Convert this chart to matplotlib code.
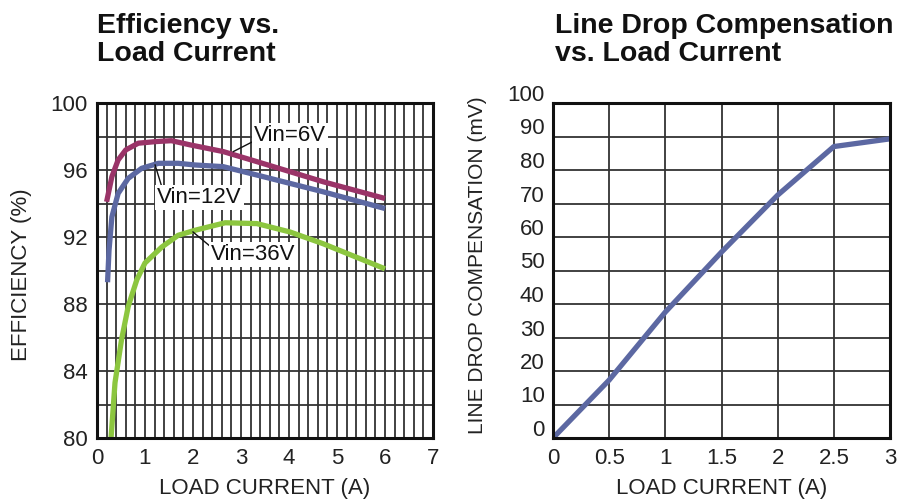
import matplotlib
matplotlib.use("Agg")
import matplotlib.pyplot as plt
import matplotlib.transforms as mtransforms
import numpy as np

plt.rcParams['font.family'] = ['Liberation Sans', 'DejaVu Sans']

# ---- Data: Efficiency vs Load Current ----
x_6v = [0.2, 0.31, 0.44, 0.6, 0.86, 1.24, 1.55, 1.94, 2.63, 3.33, 4.02, 4.71, 6.0]
y_6v = [94.1, 95.6, 96.6, 97.2, 97.6, 97.7, 97.75, 97.5, 97.1, 96.5, 95.9, 95.3, 94.3]

x_12v = [0.22, 0.25, 0.31, 0.44, 0.65, 0.93, 1.28, 1.69, 2.04, 2.63, 3.33, 4.02, 4.71, 6.0]
y_12v = [89.3, 91.2, 93.2, 94.6, 95.5, 96.1, 96.4, 96.4, 96.3, 96.2, 95.7, 95.2, 94.7, 93.7]

x_36v = [0.29, 0.375, 0.51, 0.65, 0.83, 1.0, 1.35, 1.69, 2.04, 2.67, 3.33, 4.02, 4.71, 6.0]
y_36v = [79.9, 83.3, 85.85, 87.85, 89.45, 90.45, 91.4, 92.1, 92.4, 92.85, 92.8, 92.3, 91.6, 90.1]

eff_xticks = [0, 1, 2, 3, 4, 5, 6, 7]
eff_yticks = [80, 84, 88, 92, 96, 100]

# ---- Data: Line Drop Compensation vs Load Current ----
ldc_x = [0, 0.5, 1.0, 1.5, 2.0, 2.5, 3.0]
ldc_y = [0, 17.3, 37.6, 55.5, 72.5, 87.0, 89.3]
ldc_xticks = [0, 0.5, 1, 1.5, 2, 2.5, 3]
ldc_xticklabels = ["0", "0.5", "1", "1.5", "2", "2.5", "3"]
ldc_yticks = [0, 10, 20, 30, 40, 50, 60, 70, 80, 90, 100]

C6 = '#9a3468'
C12 = '#5c68a2'
C36 = '#8cc63f'
GRID = '#333333'
FS = 16
TFS = 20.5

fig = plt.figure(figsize=(9.07, 5.04), dpi=100)
ax1 = fig.add_axes([97/907, 66/504, 336/907, 335/504])
ax2 = fig.add_axes([553/907, 66/504, 337/907, 335/504])

# ---- Left chart ----
ax1.set_xlim(0, 7)
ax1.set_ylim(80, 100)
for v in np.arange(0, 7.0001, 0.2):
    ax1.axvline(v, color=GRID, lw=1.3, zorder=1)
for v in range(80, 101, 2):
    ax1.axhline(v, color=GRID, lw=1.3, zorder=1)
ax1.plot(x_6v, y_6v, color=C6, lw=3.8, solid_capstyle='butt', solid_joinstyle='round', zorder=3)
ax1.plot(x_12v, y_12v, color=C12, lw=3.8, solid_capstyle='butt', solid_joinstyle='round', zorder=3)
ax1.plot(x_36v, y_36v, color=C36, lw=3.8, solid_capstyle='butt', solid_joinstyle='round', zorder=3)
ax1.set_xticks(eff_xticks)
ax1.set_yticks(eff_yticks)
ax1.tick_params(length=0, labelsize=FS, colors='#222222', pad=7)
ax1.set_xlabel("LOAD CURRENT (A)", fontsize=FS, color='#222222', labelpad=7)
ax1.set_ylabel("EFFICIENCY (%)", fontsize=FS, color='#222222', va='center')
ax1.yaxis.set_label_coords(-0.226, 0.487)
for s in ax1.spines.values():
    s.set_linewidth(2.2)
    s.set_color('#111111')
    s.set_zorder(5)

bbox = dict(facecolor='white', edgecolor='none', pad=1.5)
ax1.plot([3.25, 2.84], [97.7, 97.1], color='#111111', lw=1.0, zorder=3.5)
ax1.text(4.02, 98.05, "Vin=6V", fontsize=FS, ha='center', va='center', bbox=bbox, zorder=4, color='#111111')
ax1.plot([1.35, 1.21], [95.0, 96.3], color='#111111', lw=1.0, zorder=3.5)
ax1.text(2.13, 94.35, "Vin=12V", fontsize=FS, ha='center', va='center', bbox=bbox, zorder=4, color='#111111')
ax1.plot([2.46, 2.0], [91.2, 92.3], color='#111111', lw=1.0, zorder=3.5)
ax1.text(3.25, 90.95, "Vin=36V", fontsize=FS, ha='center', va='center', bbox=bbox, zorder=4, color='#111111')

fig.text(97/907, 1 - 13/504, "Efficiency vs.\nLoad Current", fontsize=TFS, fontweight='bold',
         ha='left', va='top', color='#111111', linespacing=1.1)

# ---- Right chart ----
ax2.set_xlim(0, 3)
ax2.set_ylim(0, 100)
for v in ldc_xticks:
    ax2.axvline(v, color=GRID, lw=1.3, zorder=1)
for v in ldc_yticks:
    ax2.axhline(v, color=GRID, lw=1.3, zorder=1)
ax2.plot(ldc_x, ldc_y, color=C12, lw=3.8, zorder=3)
ax2.set_xticks(ldc_xticks)
ax2.set_xticklabels(ldc_xticklabels)
ax2.set_yticks(ldc_yticks)
ax2.tick_params(length=0, labelsize=FS, colors='#222222', pad=7)
ax2.tick_params(axis='y', pad=6)
offset = mtransforms.ScaledTranslation(0, 10/100, fig.dpi_scale_trans)
for lab in ax2.get_yticklabels():
    lab.set_transform(lab.get_transform() + offset)
ax2.set_xlabel("LOAD CURRENT (A)", fontsize=FS, color='#222222', labelpad=7)
ax2.set_ylabel("LINE DROP COMPENSATION (mV)", fontsize=15, color='#222222', va='center')
ax2.yaxis.set_label_coords(-0.2226, 0.516)
for s in ax2.spines.values():
    s.set_linewidth(2.2)
    s.set_color('#111111')
    s.set_zorder(5)

fig.text(555/907, 1 - 13/504, "Line Drop Compensation\nvs. Load Current", fontsize=TFS, fontweight='bold',
         ha='left', va='top', color='#111111', linespacing=1.1)

fig.savefig("out.png", dpi=100, facecolor='white')
